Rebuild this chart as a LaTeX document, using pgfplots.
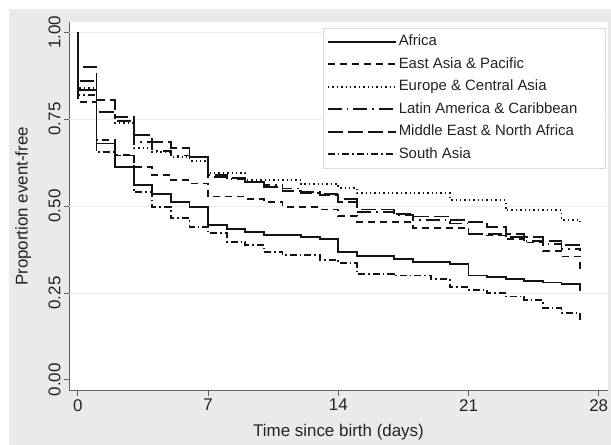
\documentclass[border=0pt]{standalone}
\usepackage{fontspec}
\setmainfont{Liberation Sans}
\usepackage{pgfplots}
\usepackage{pgfplotstable}
\pgfplotsset{compat=1.18}

\definecolor{graphbg}{RGB}{234,234,234}
\definecolor{gridc}{RGB}{236,236,236}
\definecolor{axisc}{RGB}{95,95,95}
\definecolor{txt}{RGB}{35,35,35}
\definecolor{curve}{RGB}{20,20,20}
\definecolor{legc}{RGB}{218,218,218}

% Kaplan-Meier estimates (day, proportion event-free)
\pgfplotstableread{
t s
0 1.000
0 0.833
1 0.680
2 0.613
3 0.560
4 0.534
5 0.511
6 0.497
7 0.445
8 0.434
9 0.425
10 0.417
12 0.410
13 0.405
14 0.368
15 0.356
17 0.348
18 0.340
20 0.333
21 0.300
22 0.296
23 0.290
24 0.285
25 0.280
26 0.276
27 0.255
}\africa

\pgfplotstableread{
t s
0 1.000
0 0.800
1 0.690
2 0.647
3 0.613
4 0.590
5 0.575
6 0.565
7 0.527
9 0.520
10 0.511
11 0.497
13 0.490
14 0.471
15 0.455
18 0.437
21 0.420
22 0.415
23 0.405
24 0.395
25 0.370
26 0.355
27 0.310
}\eastasia

\pgfplotstableread{
t s
0 1.000
0 0.840
1 0.770
2 0.738
3 0.667
4 0.655
5 0.640
6 0.630
7 0.594
9 0.575
12 0.563
14 0.552
15 0.537
20 0.517
23 0.488
26 0.460
27 0.450
}\europe

\pgfplotstableread{
t s
0 1.000
0 0.860
1 0.770
2 0.745
3 0.685
4 0.658
5 0.645
6 0.640
7 0.584
8 0.578
9 0.570
10 0.560
11 0.550
12 0.540
13 0.535
14 0.520
15 0.483
17 0.474
18 0.460
20 0.450
21 0.420
23 0.410
24 0.400
25 0.390
26 0.376
27 0.370
}\latin

\pgfplotstableread{
t s
0 1.000
0 0.900
1 0.805
2 0.756
3 0.704
4 0.685
5 0.667
6 0.640
7 0.589
8 0.580
9 0.569
10 0.555
11 0.543
12 0.537
13 0.532
14 0.511
15 0.490
17 0.478
18 0.470
20 0.460
21 0.454
22 0.440
23 0.420
24 0.410
25 0.400
26 0.388
27 0.380
}\mideast

\pgfplotstableread{
t s
0 1.000
0 0.820
1 0.655
2 0.645
3 0.540
4 0.497
5 0.465
6 0.440
7 0.422
8 0.397
9 0.388
10 0.368
11 0.359
13 0.345
14 0.336
15 0.305
17 0.300
19 0.290
20 0.267
21 0.259
22 0.250
23 0.240
24 0.230
25 0.207
26 0.193
27 0.170
}\southasia

\begin{document}
\begin{tikzpicture}
\useasboundingbox (0,0) rectangle (611bp,445bp);
\fill[white] (0,0) rectangle (611bp,445bp);
\fill[graphbg] (9bp,0) rectangle (611bp,436bp);

\begin{axis}[
    at={(69bp,54.3bp)},
    anchor=south west,
    scale only axis,
    width=539bp,
    height=368.7bp,
    xmin=-0.48, xmax=28.5,
    ymin=-0.031, ymax=1.029,
    axis lines=left,
    axis line style={axisc, line width=0.9bp, -},
    axis background/.style={fill=white},
    xtick={0,7,14,21,28},
    ytick={0,0.25,0.5,0.75,1},
    extra y ticks={0.25,0.5,0.75,1},
    extra y tick labels={},
    extra y tick style={major tick length=0pt, ymajorgrids=true},
    grid style={gridc, line width=0.9bp},
    tick align=outside,
    major tick length=5bp,
    tick style={axisc, line width=0.9bp},
    /pgf/number format/assume math mode=true,
    ticklabel style={font=\fontsize{17}{20}\selectfont, text=txt},
    yticklabel style={rotate=90, anchor=south,
        /pgf/number format/fixed,
        /pgf/number format/fixed zerofill,
        /pgf/number format/precision=2},
    xlabel={Time since birth (days)},
    ylabel={Proportion event-free},
    label style={font=\fontsize{17}{20}\selectfont, text=txt},
    xlabel style={at={(axis description cs:0.5,-0.112)}, anchor=center},
    ylabel style={at={(axis description cs:-0.085,0.5)}, anchor=center},
    legend style={
        at={(axis description cs:0.471,0.984)},
        anchor=north west,
        draw=legc,
        fill=white,
        font=\fontsize{15}{18}\selectfont,
        text=txt,
        inner xsep=4bp,
        inner ysep=5bp,
        row sep=5bp,
        nodes={text height=11bp, text depth=3.5bp, inner ysep=1.5bp},
    },
    legend cell align=left,
    legend image code/.code={\draw[#1,sharp plot,line width=1.7bp] (0bp,0bp) -- (60bp,0bp);
        \path (0bp,0bp) -- (68bp,0bp);},
    every axis plot/.append style={curve, line width=1.7bp, const plot mark left},
]

\addplot[solid] table[x=t,y=s] {\africa};
\addlegendentry{Africa}

\addplot[dash pattern=on 7bp off 5bp] table[x=t,y=s] {\eastasia};
\addlegendentry{East Asia \& Pacific}

\addplot[dash pattern=on 1.4bp off 3bp] table[x=t,y=s] {\europe};
\addlegendentry{Europe \& Central Asia}

\addplot[dash pattern=on 14bp off 5bp on 1.5bp off 5bp] table[x=t,y=s] {\latin};
\addlegendentry{Latin America \& Caribbean\rule{22bp}{0pt}}

\addplot[dash pattern=on 15bp off 5bp] table[x=t,y=s] {\mideast};
\addlegendentry{Middle East \& North Africa}

\addplot[dash pattern=on 7bp off 3bp on 1.5bp off 3bp] table[x=t,y=s] {\southasia};
\addlegendentry{South Asia}

\end{axis}
\end{tikzpicture}
\end{document}
